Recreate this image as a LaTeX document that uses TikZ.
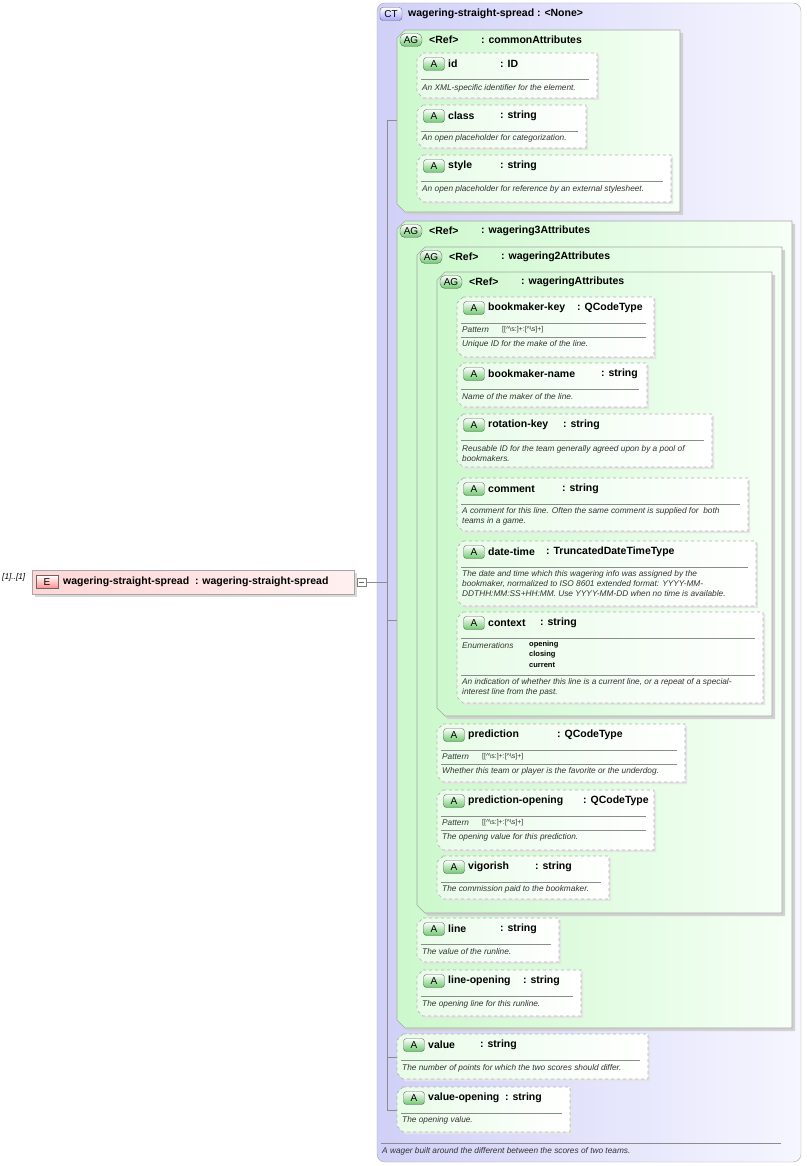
\documentclass[tikz,border=0pt]{standalone}
\usepackage{fontspec}
\setmainfont{Liberation Sans}
\definecolor{ctl}{RGB}{208,208,248}
\definecolor{ctr}{RGB}{246,246,255}
\definecolor{agl}{RGB}{204,248,204}
\definecolor{agr}{RGB}{246,255,246}
\definecolor{bdg}{RGB}{110,200,110}
\definecolor{el}{RGB}{255,214,214}
\definecolor{er}{RGB}{255,240,240}
\tikzset{
 hdr/.style={font=\bfseries\fontsize{10.5}{12}\selectfont, inner sep=0pt, anchor=west},
 doc/.style={font=\itshape\fontsize{8.3}{9}\selectfont, text=black!80, inner sep=0pt, anchor=west},
 enm/.style={font=\bfseries\fontsize{7.5}{8.5}\selectfont, inner sep=0pt, anchor=west},
 pat/.style={font=\fontsize{7}{8}\selectfont, inner sep=0pt, anchor=west, text=black!80},
 conn/.style={draw=black!45, line width=0.5pt},
 badge/.style={draw=black!60, rounded corners=3pt, minimum height=13pt, inner sep=1pt, font=\fontsize{10}{11}\selectfont, top color=white, bottom color=bdg},
}
\newcommand\abox[7]{%
 \fill[black!10] (#1+8,#2+2) -- (#3+2,#2+2) -- (#3+2,#4+2) -- (#1+8,#4+2) -- (#1+2,#4-4) -- (#1+2,#2+8) -- cycle;
 \shade[left color=agl!45!white, right color=white] (#1+6,#2) -- (#3,#2) -- (#3,#4) -- (#1+6,#4) -- (#1,#4-6) -- (#1,#2+6) -- cycle;
 \draw[draw=black!30, dashed, line width=0.7pt] (#1+6,#2) -- (#3,#2) -- (#3,#4) -- (#1+6,#4) -- (#1,#4-6) -- (#1,#2+6) -- cycle;
 \node[badge, minimum width=21pt] at (#1+17,#2+11) {A};
 \node[hdr] at (#1+31,#2+11) {#5};
 \node[hdr] at (#6,#2+11) {: #7};
 \draw[black!45] (#1+4,#2+26) -- (#3-8,#2+26);
}
\newcommand\agbox[5]{%
 \fill[black!18] (#1+11,#2+3) -- (#3+3,#2+3) -- (#3+3,#4+3) -- (#1+11,#4+3) -- (#1+3,#4-5) -- (#1+3,#2+11) -- cycle;
 \shade[left color=agl, right color=agr] (#1+8,#2) -- (#3,#2) -- (#3,#4) -- (#1+8,#4) -- (#1,#4-8) -- (#1,#2+8) -- cycle;
 \draw[black!35, line width=0.6pt] (#1+8,#2) -- (#3,#2) -- (#3,#4) -- (#1+8,#4) -- (#1,#4-8) -- (#1,#2+8) -- cycle;
 \node[badge, minimum width=22pt, rounded corners=5pt] at (#1+14,#2+10) {AG};
 \node[hdr] at (#1+32,#2+10) {<Ref>};
 \node[hdr] at (#1+84,#2+10) {: #5};
}
\begin{document}
\begin{tikzpicture}[x=1pt,y=-1pt]
\useasboundingbox (0,0) rectangle (806,1166);
\fill[white] (0,0) rectangle (806,1166);
% CT
\shade[left color=ctl, right color=ctr, rounded corners=8pt] (377,3) rectangle (801,1162);
\draw[black!35, rounded corners=8pt] (377,3) rectangle (801,1162);
\node[badge, top color=white, bottom color=ctl!80!blue, minimum width=22pt] (ct) at (391,14) {CT};
\node[hdr] (cttitle) at (408,14) {wagering-straight-spread : <None>};
\draw[black!45] (381,1143) -- (781,1143);
\node[doc] (ctdoc) at (382,1151) {A wager built around the different between the scores of two teams.};
% connectors
\draw[conn] (366,582) -- (387,582);
\draw[conn] (387,120) -- (387,1110);
\draw[conn] (387,120) -- (407,120) (407,75) -- (407,178);
\foreach \y in {75,127,178} \draw[conn] (407,\y) -- (417,\y);
\draw[conn] (387,620) -- (407,620) (407,580) -- (407,993);
\foreach \y in {940,993} \draw[conn] (407,\y) -- (417,\y);
\draw[conn] (407,580) -- (427,580) (427,494) -- (427,877);
\foreach \y in {753,820,877} \draw[conn] (427,\y) -- (437,\y);
\draw[conn] (427,494) -- (447,494) (447,327) -- (447,658);
\foreach \y in {327,385,440,504,573,658} \draw[conn] (447,\y) -- (457,\y);
\foreach \y in {1057,1110} \draw[conn] (387,\y) -- (397,\y);
% commonAttributes
\agbox{397}{30}{680}{212}{commonAttributes}
\abox{417}{53}{597}{98}{id}{500}{ID}
\node[doc] at (422,88) {An XML-specific identifier for the element.};
\abox{417}{105}{586}{148}{class}{500}{string}
\node[doc] at (422,138) {An open placeholder for categorization.};
\abox{417}{155}{671}{202}{style}{500}{string}
\node[doc] at (422,189) {An open placeholder for reference by an external stylesheet.};
% wagering3
\agbox{397}{221}{792}{1028}{wagering3Attributes}
\agbox{417}{247}{782}{913}{wagering2Attributes}
\agbox{437}{272}{772}{716}{wageringAttributes}
\abox{457}{297}{654}{357}{bookmaker-key}{577}{QCodeType}
\node[doc] at (462,330) {Pattern};
\node[pat] at (502,330) {[[\^{}\textbackslash s:]+:[\^{}\textbackslash s]+]};
\draw[black!45] (461,337) -- (646,337);
\node[doc] at (462,344) {Unique ID for the make of the line.};
\abox{457}{363}{647}{407}{bookmaker-name}{601}{string}
\node[doc] at (462,397) {Name of the maker of the line.};
\abox{457}{414}{712}{467}{rotation-key}{563}{string}
\node[doc] at (462,449) {Reusable ID for the team generally agreed upon by a pool of};
\node[doc] at (462,459) {bookmakers.};
\abox{457}{478}{748}{531}{comment}{562}{string}
\node[doc] at (462,511) {A comment for this line. Often the same comment is supplied for\ \ both};
\node[doc] at (462,521) {teams in a game.};
\abox{457}{541}{756}{606}{date-time}{546}{TruncatedDateTimeType}
\node[doc] at (462,574) {The date and time which this wagering info was assigned by the};
\node[doc] at (462,584) {bookmaker, normalized to ISO 8601 extended format: YYYY-MM-};
\node[doc] at (462,594) {DDTHH:MM:SS+HH:MM. Use YYYY-MM-DD when no time is available.};
\abox{457}{612}{763}{703}{context}{540}{string}
\node[doc] at (462,646) {Enumerations};
\node[enm] at (529,645) {opening};
\node[enm] at (529,655) {closing};
\node[enm] at (529,665) {current};
\draw[black!45] (461,675) -- (755,675);
\node[doc] at (462,682) {An indication of whether this line is a current line, or a repeat of a special-};
\node[doc] at (462,692) {interest line from the past.};
\abox{437}{724}{685}{782}{prediction}{557}{QCodeType}
\node[doc] at (442,757) {Pattern};
\node[pat] at (482,757) {[[\^{}\textbackslash s:]+:[\^{}\textbackslash s]+]};
\draw[black!45] (441,764) -- (677,764);
\node[doc] at (442,771) {Whether this team or player is the favorite or the underdog.};
\abox{437}{790}{654}{850}{prediction-opening}{583}{QCodeType}
\node[doc] at (442,823) {Pattern};
\node[pat] at (482,823) {[[\^{}\textbackslash s:]+:[\^{}\textbackslash s]+]};
\draw[black!45] (441,830) -- (646,830);
\node[doc] at (442,837) {The opening value for this prediction.};
\abox{437}{856}{609}{899}{vigorish}{535}{string}
\node[doc] at (442,889) {The commission paid to the bookmaker.};
\abox{417}{918}{559}{962}{line}{500}{string}
\node[doc] at (422,952) {The value of the runline.};
\abox{417}{970}{581}{1016}{line-opening}{523}{string}
\node[doc] at (422,1004) {The opening line for this runline.};
\abox{397}{1034}{648}{1079}{value}{480}{string}
\node[doc] at (402,1068) {The number of points for which the two scores should differ.};
\abox{397}{1087}{570}{1132}{value-opening}{505}{string}
\node[doc] at (402,1120) {The opening value.};
% element
\fill[black!15] (35,573) rectangle (357,597);
\shade[left color=el, right color=er] (32,570) rectangle (354,594);
\draw[black!35] (32,570) rectangle (354,594);
\node[badge, rounded corners=0pt, top color=white, bottom color=red!45, minimum width=22pt] (eb) at (47,582) {E};
\node[hdr] (ename) at (63,582) {wagering-straight-spread\ \ : wagering-straight-spread};
\draw[black!50, fill=white] (357,578) rectangle (366,586);
\draw[black!60] (359,582) -- (364,582);
\node[doc, text=black] (card) at (2,577) {[1]..[1]};
\end{tikzpicture}
\end{document}
